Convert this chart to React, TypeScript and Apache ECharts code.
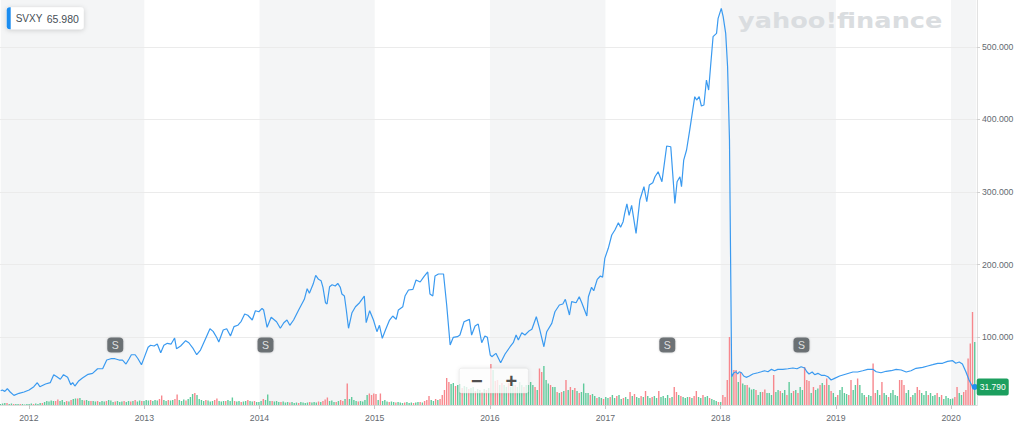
import React, { useEffect, useRef } from "react";
import * as echarts from "echarts";

// ---------- texts ----------
const TICKER = "SVXY";
const LEGEND_PRICE = "65.980";
const WATERMARK = "yahoo!finance";
const EVENT_TEXT = "S";
const ZOOM_OUT = "\u2212";
const ZOOM_IN = "+";

// ---------- axis extents ----------
const AXIS_START = "2011-10-04";
const AXIS_END = "2020-03-21";
const PRICE_MIN = 6.9;
const PRICE_MAX = 564.4;
const VOLUME_MAX = 405; // volume axis top (relative volume units)
const EVENT_LEVEL = 60; // event markers level on the volume axis

// ---------- price line (date, close) ----------
const priceDates = [
  "2011-10-04","2011-10-09","2011-10-17","2011-10-25","2011-11-03","2011-11-15","2011-12-01","2011-12-17",
  "2012-01-02","2012-01-17","2012-01-28","2012-02-05","2012-02-23","2012-03-09","2012-03-20","2012-03-30",
  "2012-04-10","2012-04-20","2012-05-03","2012-05-13","2012-05-19","2012-05-26","2012-06-06","2012-06-19",
  "2012-07-07","2012-07-21","2012-08-06","2012-08-22","2012-09-04","2012-09-17","2012-09-30","2012-10-13",
  "2012-10-24","2012-11-04","2012-11-14","2012-11-21","2012-12-03","2012-12-12","2012-12-23",
  "2013-01-01","2013-01-13","2013-01-21","2013-02-01","2013-02-11","2013-02-22","2013-03-04","2013-03-15",
  "2013-03-27","2013-04-07","2013-04-13","2013-04-26","2013-05-12","2013-05-22","2013-06-05","2013-06-16",
  "2013-06-28","2013-07-14","2013-07-28","2013-08-07","2013-08-18","2013-08-25","2013-09-08","2013-09-19",
  "2013-10-01","2013-10-12","2013-10-24","2013-11-04","2013-11-15","2013-11-25","2013-12-09","2013-12-19",
  "2013-12-30","2014-01-09","2014-01-14","2014-01-25","2014-02-07","2014-02-24","2014-03-08","2014-03-19",
  "2014-03-29","2014-04-07","2014-04-19","2014-05-05","2014-05-23","2014-06-01","2014-06-08","2014-06-20",
  "2014-06-28","2014-07-07","2014-07-15","2014-07-21","2014-07-29","2014-08-03","2014-08-11","2014-08-19",
  "2014-08-29","2014-09-06","2014-09-14","2014-09-19","2014-09-27","2014-10-03","2014-10-10","2014-10-21",
  "2014-11-01","2014-11-14","2014-11-29","2014-12-05","2014-12-16","2014-12-28",
  "2015-01-08","2015-01-16","2015-01-25","2015-02-04","2015-02-17","2015-02-27","2015-03-10","2015-03-17",
  "2015-03-31","2015-04-07","2015-04-18","2015-05-02","2015-05-12","2015-05-25","2015-06-06","2015-06-18",
  "2015-06-25","2015-07-04","2015-07-11","2015-07-22","2015-08-07","2015-08-17","2015-08-28","2015-09-07",
  "2015-09-20","2015-09-28","2015-10-11","2015-10-28","2015-11-04","2015-11-15","2015-11-25","2015-12-06",
  "2015-12-16","2015-12-24",
  "2016-01-02","2016-01-07","2016-01-20","2016-02-04","2016-02-18","2016-03-05","2016-03-15","2016-03-24",
  "2016-03-31","2016-04-11","2016-04-21","2016-05-05","2016-05-13","2016-05-27","2016-06-06","2016-06-20",
  "2016-06-29","2016-07-15","2016-07-25","2016-08-08","2016-08-19","2016-08-27","2016-09-09","2016-09-16",
  "2016-09-30","2016-10-10","2016-10-18","2016-11-03","2016-11-08","2016-11-18","2016-11-25","2016-12-06",
  "2016-12-16","2016-12-23","2016-12-30",
  "2017-01-10","2017-01-21","2017-01-31","2017-02-11","2017-02-18","2017-02-26","2017-03-03","2017-03-10",
  "2017-03-17","2017-03-25","2017-04-08","2017-04-20","2017-05-03","2017-05-12","2017-05-20","2017-05-31",
  "2017-06-07","2017-06-17","2017-06-29","2017-07-14","2017-07-27","2017-08-09","2017-08-16","2017-08-25",
  "2017-08-30","2017-09-06","2017-09-15","2017-09-25","2017-10-11","2017-10-17","2017-10-25","2017-11-01",
  "2017-11-09","2017-11-17","2017-11-24","2017-11-30","2017-12-08","2017-12-19","2017-12-24",
  "2018-01-03","2018-01-09","2018-01-17","2018-01-23","2018-01-29","2018-02-05","2018-02-12","2018-02-19",
  "2018-02-24","2018-03-01","2018-03-08","2018-03-15","2018-03-23","2018-04-02","2018-04-13","2018-04-29",
  "2018-05-10","2018-05-20","2018-05-31","2018-06-11","2018-06-21","2018-07-01","2018-07-17","2018-08-02",
  "2018-08-18","2018-08-31","2018-09-13","2018-09-24","2018-10-01","2018-10-08","2018-10-18","2018-10-26",
  "2018-11-05","2018-11-16","2018-11-26","2018-12-07","2018-12-17","2018-12-28",
  "2019-01-13","2019-02-03","2019-02-24","2019-03-11","2019-03-27","2019-04-12","2019-04-28","2019-05-09",
  "2019-05-24","2019-06-09","2019-06-25","2019-07-11","2019-07-27","2019-08-12","2019-08-27","2019-09-12",
  "2019-10-03","2019-10-19","2019-11-04","2019-11-20","2019-12-05","2019-12-21",
  "2020-01-06","2020-01-16","2020-01-27","2020-02-06","2020-02-17","2020-02-27","2020-03-09","2020-03-16",
];
const priceValues = [
  26.6, 27.5, 25.7, 29.3, 24.8, 20.2, 23.0, 24.8,
  27.5, 32.1, 37.6, 32.1, 35.8, 37.6, 48.6, 45.8,
  42.3, 48.6, 45.0, 34.8, 37.6, 33.0, 39.5, 44.0,
  49.1, 50.5, 56.8, 56.8, 68.8, 70.6, 70.6, 68.8,
  68.8, 63.3, 70.6, 76.1, 76.1, 70.6, 62.4,
  72.5, 86.3, 89.1, 88.1, 90.8, 78.9, 89.1, 91.8,
  90.8, 99.1, 84.4, 88.1, 95.4, 92.6, 84.4, 76.1,
  82.6, 98.1, 111.9, 108.3, 100.1, 93.6, 110.1, 111.9,
  101.9, 114.7, 116.6, 122.1, 132.1, 130.4, 123.9, 136.7,
  135.3, 140.0, 137.7, 113.8, 127.6, 121.5, 112.5, 120.2,
  123.9, 116.6, 123.9, 137.7, 152.4, 167.0, 160.6, 173.4,
  185.4, 179.9, 178.0, 168.9, 147.7, 145.9, 169.7, 172.5,
  170.7, 174.4, 168.9, 159.7, 156.9, 137.7, 112.5, 133.9,
  142.2, 147.7, 156.9, 120.2, 136.7, 123.9,
  107.8, 116.6, 98.7, 110.1, 123.9, 129.4, 124.9, 137.7,
  142.2, 156.9, 165.2, 166.1, 178.9, 176.2, 183.5, 190.0,
  159.7, 156.9, 184.5, 187.2, 187.2, 144.5, 89.5, 100.1,
  100.9, 103.2, 121.5, 124.8, 103.2, 115.6, 118.4, 92.6,
  101.9, 100.1,
  75.7, 73.4, 78.0, 65.1, 77.1, 87.1, 92.6, 103.2,
  96.4, 106.4, 103.2, 109.2, 111.1, 128.4, 112.5, 87.1,
  107.8, 119.3, 135.3, 144.5, 145.9, 152.4, 130.8, 149.1,
  147.7, 156.0, 147.7, 129.4, 156.0, 168.9, 164.2, 179.9,
  184.5, 182.7, 208.8,
  222.6, 240.9, 247.8, 257.8, 251.5, 259.2, 270.8, 283.6,
  268.0, 281.8, 243.2, 289.1, 307.4, 286.7, 309.7, 312.9,
  321.1, 328.0, 314.3, 363.4, 362.4, 284.5, 314.3, 321.1,
  307.4, 344.1, 357.9, 385.4, 431.3, 426.7, 431.3, 418.5,
  419.8, 454.2, 440.5, 472.6, 513.9, 518.5, 539.2,
  552.9, 541.4, 518.5, 472.6, 371.7, 45.8, 51.3, 52.7,
  49.6, 52.7, 51.3, 46.8, 45.0, 46.8, 49.6, 51.3,
  52.7, 54.1, 52.7, 56.0, 54.1, 56.0, 56.0, 56.8,
  57.8, 56.8, 59.6, 57.8, 52.7, 49.6, 52.3, 48.6,
  50.5, 47.8, 47.8, 45.8, 41.3, 43.6,
  46.8, 49.6, 52.3, 52.3, 54.1, 56.0, 56.0, 52.7,
  51.3, 53.3, 54.1, 56.0, 55.1, 52.3, 54.1, 57.4,
  58.8, 60.6, 62.4, 64.3, 64.3, 67.0,
  67.9, 64.3, 66.1, 63.3, 52.7, 41.3, 32.1, 31.79,
];

// ---------- weekly volume (relative units); negative = down week (red), positive = up week (green) ----------
const VOLUME_FIRST_WEEK = "2011-10-03";
const vol2011 = [1, 1.5, 2, -2, 1, 1.5, -1, 1, 1, -1, 1, 0.5, 1];
const vol2012 = [
  1, 1.5, -1, 1.5, 1, 2, -2, 3, 4, 3.5,
  4.5, 4, -4, -5.5, 4, 5, 3, -4, 3.5, -5,
  6, 6.5, -6.5, 7, 5, -4.5, 5, 4, -4, 4,
  3.5, -4, 3, 4, 3.5, -4, 5, 4.5, 3, -3.5,
  4, 3, 3.5, -4, 3, 4, -3.5, 4, -5, 3.5,
  4.5, -4,
];
const vol2013 = [
  4, 5, 4.5, -5, 4, 5, 4.5, -6, -9.5, 5,
  4, -5, 4.5, 5, -6, -10.5, 5, 4, 5.5, -4.5,
  6, 8, 11, -12, 10, 6, 5, 4, -5, 4.5,
  3.5, 4, -5, -6.5, 4, 3.5, 4, -4, 5, 4,
  7.5, -4, 3.5, 4, -3, 3.5, 4, -5, 4, 3.5,
  -4, 3,
];
const vol2014 = [
  3, 4, -6, 5, 10.5, 4, -4, 3.5, 4, 3,
  -3, 3.5, 2.5, 3, -2.5, 3, 2, 2.5, -2, 3,
  2.5, 2, 2.5, -3, 2.5, 3, 2.5, -3.5, 3, -4,
  -5.5, -7.5, 4, 4.5, 3, -3, 4, -5, -4, 6,
  -21.5, 6, 8, 5, 4, -3.5, 4, 3.5, 5, 10,
  -11.5, -10,
];
const vol2015 = [
  -11.5, -11, 5, -11.5, 4, 5, 3.5, -3, 3.5, 3,
  -2.5, 3, 2.5, 2, -2.5, 3, 2, 2.5, -2, 2.5,
  3, -3, 2.5, -4, -5, -9, 5, 4, -6, 5,
  -6, -10, -15, -27, -23, 21, 22, -19, 20, 21,
  -17, 19, 18, -16, 17, 18, -14, 16, 15, -13,
  16, -15, 17,
];
const vol2016 = [
  -41, 35, -24, -25, 20, -22, 20, 18, -22, 18,
  22, -20, 18, 23, 20, -18, 20, 20, 23, 20,
  -18, 15, -36.5, -33, 39, 25, 21.5, -20, 18, 18,
  -13, 12, -13, 14, -25, 15, -18, 15, -17, 14,
  -12, 13, 21.5, 12, 12, -10, 11, 9, -7, 8,
  7, -6,
];
const vol2017 = [
  8, 7, -8, 10, 7, -9, 10, 6, -7, 8,
  6, -13, 9, -11, 8, 7, -9, 8, -14, 9,
  7, -8, 9, 7, -14, 8, 9, 7, 10, -7,
  8, -18, -13, 10, -9, 8, 7, 8, -8, 7,
  -9, -14, 8, 7, -10, 8, 9, -7, 6, 5,
  4, -3,
];
const vol2018 = [
  3, -10, -8, -25, -68, 31.5, -35, -35, 23, -33,
  21.5, 20, -20, 17.5, 15.5, 16, -15, 10, 13, -13,
  -15.5, 12, 12, 10, -30, 13, 15, -14, 12, 15,
  -10, 23, 12, -14, 15, -12, 18, 15, -38, -25,
  -24, 12, -18, 15, 16.5, -20, 22, -20, -26.5, 20,
  -14, 12,
];
const vol2019 = [
  8, -10, 15, 18, 12, 11, -10, -25, 15, 20,
  -26.5, 20, 12, 10, -8, 10, 9, -41.5, -12, 15,
  10, -23, 12, 10, -8, 12, 15, 10, 9, -25,
  -25, -20, 12, 15, -8, 10, 12, -18, -15, 12,
  10, 14, -10, 12, 9, 10, -12, 8, -10, 6,
  9, 7,
];
const vol2020 = [6, 6.5, -8, -18, 12, 10, -13, -15, -46.5, -61.5, -93, 63];

// ---------- stock event markers ----------
const eventDates = ["2012-10-01", "2014-01-20", "2017-07-16", "2018-09-14"];

// ---------- shaded (alternate) years ----------
const shadedYears: [string, string][] = [
  [AXIS_START, "2013-01-01"],
  ["2014-01-01", "2015-01-01"],
  ["2016-01-01", "2017-01-01"],
  ["2018-01-01", "2019-01-01"],
  ["2020-01-01", AXIS_END],
];

// ---------- styles ----------
const FONT = "'Liberation Sans', Arial, Helvetica, sans-serif";
const LINE_COLOR = "#3a9af0";
const UP_COLOR = "#5fca9b";
const DOWN_COLOR = "#f7878d";
const BAND_COLOR = "#f4f5f6";
const LABEL_COLOR = "#646a70";
const TOP_Z = 20;

function addDays(iso: string, n: number): string {
  const d = new Date(iso + "T00:00:00Z");
  d.setUTCDate(d.getUTCDate() + n);
  return d.toISOString().slice(0, 10);
}

export default function App() {
  const ref = useRef<HTMLDivElement>(null);

  useEffect(() => {
    if (!ref.current) return;
    const chart = echarts.init(ref.current, undefined, { renderer: "svg" });

    const volumes = [
      ...vol2011, ...vol2012, ...vol2013, ...vol2014, ...vol2015,
      ...vol2016, ...vol2017, ...vol2018, ...vol2019, ...vol2020,
    ];
    const volumeData = volumes.map((v, i) => ({
      value: [addDays(VOLUME_FIRST_WEEK, i * 7), Math.abs(v)],
      itemStyle: { color: v < 0 ? DOWN_COLOR : UP_COLOR },
    }));
    const priceData = priceDates.map((d, i) => [d, priceValues[i]]);
    const lastIdx = priceDates.length - 1;

    const option: any = {
      animation: false,
      backgroundColor: "#ffffff",
      textStyle: { fontFamily: FONT },
      grid: { left: 0, right: 47, top: 0, bottom: 22, containLabel: false },
      xAxis: {
        type: "time",
        min: AXIS_START,
        max: AXIS_END,
        splitNumber: 9,
        minInterval: 365 * 24 * 3600 * 1000,
        z: 3,
        axisLine: { show: true, lineStyle: { color: "#dcdcdc", width: 1 } },
        axisTick: { show: true, length: 4, lineStyle: { color: "#c8c8c8" } },
        axisLabel: {
          color: LABEL_COLOR,
          fontSize: 8.7,
          margin: 8,
          formatter: "{yyyy}",
        },
        splitLine: { show: false },
      },
      yAxis: [
        {
          type: "value",
          position: "right",
          min: PRICE_MIN,
          max: PRICE_MAX,
          splitNumber: 5,
          z: 1,
          axisLine: { show: true, lineStyle: { color: "#e2e2e2" } },
          axisTick: { show: true, length: 3, lineStyle: { color: "#d0d0d0" } },
          axisLabel: {
            color: LABEL_COLOR,
            fontSize: 8.7,
            margin: 5,
            showMinLabel: false,
            showMaxLabel: false,
            formatter: (v: number) => {
              const r = Math.round(v);
              return Math.abs(v - r) < 1e-6 && r > 0 && r % 100 === 0 ? r.toFixed(3) : "";
            },
          },
          splitLine: {
            show: true,
            showMinLine: false,
            showMaxLine: false,
            lineStyle: { color: "#ebebeb", width: 1 },
          },
        },
        {
          type: "value",
          min: 0,
          max: VOLUME_MAX,
          show: false,
          splitLine: { show: false },
        },
      ],
      series: [
        {
          name: "bands",
          type: "line",
          data: [],
          z: 0,
          silent: true,
          markArea: {
            silent: true,
            z: 0,
            itemStyle: { color: BAND_COLOR },
            data: shadedYears.map(([a, b]) => [{ xAxis: a }, { xAxis: b }]),
          },
        },
        {
          name: "Volume",
          type: "bar",
          yAxisIndex: 1,
          barWidth: 1.4,
          data: volumeData,
          z: 2,
          silent: true,
        },
        {
          name: TICKER,
          type: "line",
          data: priceData,
          showSymbol: false,
          symbol: "none",
          lineStyle: { color: LINE_COLOR, width: 1.2 },
          z: 3,
          silent: true,
          markPoint: {
            silent: true,
            symbol: "circle",
            symbolSize: 6,
            itemStyle: { color: "#1f8ef1" },
            label: {
              show: true,
              position: "right",
              distance: -1,
              formatter: () => priceValues[lastIdx].toFixed(3),
              color: "#ffffff",
              fontSize: 8.5,
              lineHeight: 10,
              backgroundColor: "#1c9f5f",
              borderRadius: 2,
              padding: [4, 3, 3, 3],
            },
            data: [{ coord: [priceDates[lastIdx], priceValues[lastIdx]] }],
          },
        },
        {
          name: "events",
          type: "scatter",
          yAxisIndex: 1,
          data: eventDates.map((d) => [d, EVENT_LEVEL]),
          symbol: "roundRect",
          symbolSize: [16, 15],
          itemStyle: { color: "#51575d", shadowBlur: 2, shadowColor: "rgba(0,0,0,0.25)" },
          label: {
            show: true,
            position: "inside",
            formatter: EVENT_TEXT,
            color: "#ffffff",
            fontSize: 10.5,
          },
          z: 5,
          silent: true,
        },
      ],
      graphic: [
        {
          type: "text",
          x: 738,
          y: 21,
          z: TOP_Z,
          scaleX: 1.165,
          silent: true,
          style: {
            text: WATERMARK,
            fill: "#dadde0",
            fontFamily: "'DejaVu Sans', sans-serif",
            fontWeight: "bold",
            fontSize: 22,
            textVerticalAlign: "middle",
          },
        },
        {
          type: "group",
          x: 6.7,
          y: 7.3,
          z: TOP_Z,
          silent: true,
          children: [
            {
              type: "rect",
              z: TOP_Z,
              shape: { x: 0, y: 0, width: 77, height: 22, r: 3 },
              style: { fill: "#ffffff", shadowBlur: 5, shadowColor: "rgba(0,0,0,0.18)", shadowOffsetY: 1 },
            },
            {
              type: "rect",
              z: TOP_Z,
              shape: { x: 0, y: 0, width: 4, height: 22, r: [3, 0, 0, 3] },
              style: { fill: "#1a8cf0" },
            },
            {
              type: "text",
              z: TOP_Z,
              x: 9,
              y: 11.5,
              style: { text: TICKER, fill: "#464e56", fontFamily: FONT, fontSize: 10, textVerticalAlign: "middle" },
            },
            {
              type: "text",
              z: TOP_Z,
              x: 40,
              y: 11.5,
              style: { text: LEGEND_PRICE, fill: "#464e56", fontFamily: FONT, fontSize: 10.5, textVerticalAlign: "middle" },
            },
          ],
        },
        {
          type: "group",
          x: 459.3,
          y: 368.3,
          z: TOP_Z,
          silent: true,
          children: [
            {
              type: "rect",
              z: TOP_Z,
              shape: { x: 0, y: 0, width: 69, height: 25, r: 2 },
              style: {
                fill: "rgba(255,255,255,0.78)",
                stroke: "rgba(0,0,0,0.05)",
                shadowBlur: 4,
                shadowColor: "rgba(0,0,0,0.12)",
              },
            },
            {
              type: "text",
              z: TOP_Z,
              x: 17.5,
              y: 12.5,
              style: {
                text: ZOOM_OUT,
                fill: "#4f4f4f",
                fontFamily: FONT,
                fontWeight: "bold",
                fontSize: 20,
                textAlign: "center",
                textVerticalAlign: "middle",
              },
            },
            {
              type: "text",
              z: TOP_Z,
              x: 52,
              y: 12.5,
              style: {
                text: ZOOM_IN,
                fill: "#4f4f4f",
                fontFamily: FONT,
                fontWeight: "bold",
                fontSize: 20,
                textAlign: "center",
                textVerticalAlign: "middle",
              },
            },
          ],
        },
      ],
    };

    chart.setOption(option);
    return () => chart.dispose();
  }, []);

  return (
    <div
      ref={ref}
      style={{ position: "fixed", left: 0, top: 0, width: 1024, height: 427, background: "#fff" }}
    />
  );
}
